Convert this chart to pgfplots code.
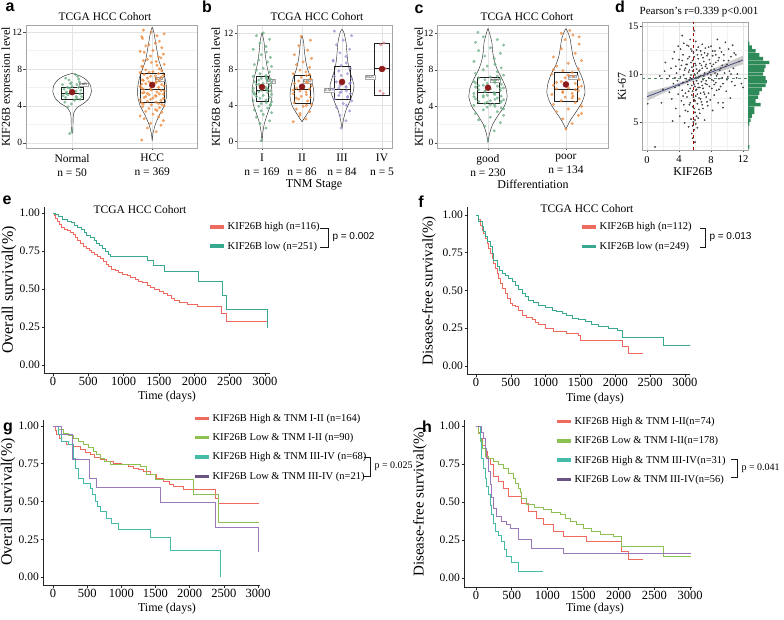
\documentclass[border=0pt]{standalone}
\usepackage{fontspec}
\setmainfont{Liberation Serif}
\newfontfamily\lsans{Liberation Sans}
\usepackage{pgfplots}
\pgfplotsset{compat=1.18}

\definecolor{kmred}{HTML}{EE6A5E}
\definecolor{kmteal}{HTML}{38A98F}
\definecolor{kmcyan}{HTML}{45BBA8}
\definecolor{kmgreen}{HTML}{8CC152}
\definecolor{kmpurple}{HTML}{9A78BA}
\definecolor{ptgreen}{HTML}{6DAF86}
\definecolor{ptorange}{HTML}{EC8A3E}
\definecolor{ptpurple}{HTML}{9C93D1}
\definecolor{ptpink}{HTML}{E07A86}
\definecolor{meanred}{HTML}{8E1B1B}
\definecolor{histgreen}{HTML}{2F8A5A}
\definecolor{fitblue}{HTML}{4A4E8C}

\pgfplotsset{
  vio/.style={scale only axis, anchor=south west,
    axis line style={draw=gray!70}, grid=both,
    major grid style={draw=gray!22, line width=0.4pt},
    minor grid style={draw=gray!10, line width=0.3pt},
    tick align=outside, major tick length=2.5pt, minor tick length=0pt,
    tick style={draw=gray!60!black, line width=0.4pt}, tick pos=left,
    ytick={0,4,8,12}, minor ytick={2,6,10},
    yticklabel style={font=\fontsize{9.5}{11}\selectfont, inner sep=1pt},
    xticklabel style={align=center, font=\fontsize{11.5}{14}\selectfont},
    /pgf/number format/assume math mode=true},
  km/.style={scale only axis, anchor=south west, axis lines=left,
    axis line style={-, draw=gray!30!black, line width=0.6pt},
    tick align=outside, major tick length=2.5pt,
    tick style={draw=gray!30!black, line width=0.6pt},
    xtick={0,500,...,3000}, ytick={0,0.25,0.5,0.75,1},
    xticklabel style={inner sep=1pt, font=\fontsize{12.5}{14}\selectfont, /pgf/number format/set thousands separator={}},
    yticklabel style={inner sep=1.5pt, font=\fontsize{11.5}{13}\selectfont, /pgf/number format/.cd, fixed, fixed zerofill, precision=2},
    /pgf/number format/assume math mode=true,
    legend cell align=left,
    legend style={draw=none, fill=none, inner sep=0pt, font=\fontsize{10.5}{12}\selectfont, row sep=6.5pt},
    legend image code/.code={\draw[line width=3.4pt,#1] (0pt,0pt) -- (14pt,0pt);}},
  violine/.style={draw=gray!35!black, line width=0.45pt, smooth, tension=0.35, mark=none, forget plot},
  boxl/.style={draw=gray!25!black, line width=0.5pt, mark=none, forget plot},
  jit/.style={only marks, mark=*, mark size=1.3pt, color=#1, mark options={draw=#1, fill=#1, opacity=0.7}, forget plot},
  meanpt/.style={only marks, mark=*, mark size=3pt, color=meanred, mark options={draw=meanred, fill=meanred}, forget plot},
  kmline/.style={const plot, line width=0.9pt, color=#1, mark=none, forget plot},
}
\tikzset{meanlab/.style={draw=gray!70, fill=white, line width=0.25pt, inner sep=0.7pt, font=\fontsize{3.5}{4}\selectfont},
  panel/.style={font=\lsans\bfseries\fontsize{16}{18}\selectfont, anchor=base}}

\begin{document}
\begin{tikzpicture}
\path[use as bounding box] (0pt,0pt) rectangle (784pt,619pt);

% ---------- a ----------
\begin{axis}[vio, at={(25.7pt,471pt)}, width=171.3pt, height=123pt,
  xmin=0.42, xmax=2.56, ymin=-0.57, ymax=12.76,
  xtick={1,2}, xticklabels={{Normal\\n = 50},{HCC\\n = 369}}]
\addplot[violine] coordinates {(1,1.0)(0.99,1.5)(0.988,2.5)(0.98,3.2)(0.94,3.8)(0.85,4.3)(0.79,4.8)(0.76,5.5)(0.77,6.2)(0.82,6.8)(0.89,7.2)(1,7.5)(1.11,7.2)(1.18,6.8)(1.23,6.2)(1.24,5.5)(1.21,4.8)(1.15,4.3)(1.06,3.8)(1.02,3.2)(1.012,2.5)(1.01,1.5)(1,1.0)};
\addplot[violine] coordinates {(2,0.2)(1.99,1)(1.96,2)(1.91,3)(1.85,4)(1.82,5)(1.82,6)(1.84,7)(1.88,8)(1.92,9)(1.94,10)(1.96,11)(1.98,12)(2,12.5)(2.02,12)(2.04,11)(2.06,10)(2.08,9)(2.12,8)(2.16,7)(2.18,6)(2.18,5)(2.15,4)(2.09,3)(2.04,2)(2.01,1)(2,0.2)};
\addplot[boxl] coordinates {(0.86,4.73)(1.14,4.73)(1.14,6.03)(0.86,6.03)(0.86,4.73)};
\addplot[boxl] coordinates {(0.86,5.4)(1.14,5.4)};
\addplot[boxl] coordinates {(1.85,4.44)(2.15,4.44)(2.15,7.55)(1.85,7.55)(1.85,4.44)};
\addplot[boxl] coordinates {(1.85,5.8)(2.15,5.8)};
\addplot[jit=ptgreen] coordinates {(0.95,5.2)(1.05,5.6)(0.92,4.9)(1.08,6.0)(0.98,6.4)(1.10,5.3)(0.90,5.8)(1.03,4.6)(0.96,6.8)(1.07,7.2)(0.93,5.5)(1.12,5.0)(1.00,6.1)(0.88,6.3)(1.06,4.8)(0.97,5.9)(1.09,6.6)(0.91,4.4)(1.02,5.4)(1.11,5.7)(0.94,6.0)(1.04,7.4)(0.99,4.2)(0.89,5.1)(1.08,6.9)(0.95,3.9)(1.01,5.6)(1.06,6.3)(0.92,7.0)(1.10,4.7)(0.97,1.0)(1.00,1.3)(0.93,5.3)(1.05,5.0)(0.99,6.5)};
\addplot[jit=ptorange] coordinates {(1.87,0.3)(2.05,1.2)(1.94,1.6)(2.11,1.9)(1.98,2.1)(2.14,2.4)(1.90,2.6)(2.08,2.8)(1.85,2.9)(2.01,3.1)(2.12,3.3)(1.92,3.4)(2.04,3.6)(1.96,3.7)(2.09,3.8)(1.88,3.9)(2.06,3.5)(2.15,4.0)(1.99,4.1)(1.89,4.2)(1.87,4.3)(2.05,4.4)(1.94,4.5)(2.11,4.6)(1.98,4.7)(2.14,4.8)(1.90,4.9)(2.08,4.25)(1.85,4.65)(2.01,4.85)(2.12,4.15)(1.92,5.0)(2.04,5.1)(1.96,5.2)(2.09,5.3)(1.88,5.4)(2.06,5.5)(2.15,5.6)(1.99,5.7)(1.89,5.8)(1.87,5.9)(2.05,5.05)(1.94,5.35)(2.11,5.65)(1.98,5.85)(2.14,5.25)(1.90,5.45)(2.08,6.0)(1.85,6.1)(2.01,6.2)(2.12,6.3)(1.92,6.4)(2.04,6.5)(1.96,6.6)(2.09,6.7)(1.88,6.8)(2.06,6.9)(2.15,6.15)(1.99,6.45)(1.89,6.75)(1.87,6.35)(2.05,6.55)(1.94,7.0)(2.11,7.1)(1.98,7.2)(2.14,7.3)(1.90,7.4)(2.08,7.5)(1.85,7.6)(2.01,7.7)(2.12,7.8)(1.92,7.9)(2.04,7.25)(1.96,7.65)(2.09,8.0)(1.88,8.2)(2.06,8.4)(2.15,8.5)(1.99,8.7)(1.89,8.9)(1.87,8.3)(2.05,8.8)(1.94,9.0)(2.11,9.2)(1.98,9.4)(2.14,9.6)(1.90,9.8)(2.08,9.3)(1.85,9.9)(2.01,10.0)(2.12,10.3)(1.92,10.5)(2.04,10.8)(1.96,10.6)(2.09,11.0)(1.88,11.3)(2.06,11.6)(2.15,11.8)(1.99,12.0)(1.89,12.2)(1.87,11.5)};
\addplot[meanpt] coordinates {(1,5.485)(2,6.262)};
\node[meanlab, anchor=west] at (axis cs:1.08,6.3) {5.485};
\node[meanlab, anchor=west] at (axis cs:2.03,6.9) {6.262};
\end{axis}

% ---------- b ----------
\begin{axis}[vio, at={(237pt,471pt)}, width=155pt, height=123pt,
  xmin=0.375, xmax=4.25, ymin=-0.70, ymax=12.88,
  xtick={1,2,3,4}, xticklabels={{I\\n = 169},{II\\n = 86},{III\\n = 84},{IV\\n = 5}}]
\addplot[violine] coordinates {(1,0)(0.98,1)(0.94,2)(0.87,3)(0.79,4)(0.75,5)(0.76,6)(0.8,7)(0.86,8)(0.9,9)(0.93,10)(0.95,11)(1,12)(1.05,11)(1.07,10)(1.1,9)(1.14,8)(1.2,7)(1.24,6)(1.25,5)(1.21,4)(1.13,3)(1.06,2)(1.02,1)(1,0)};
\addplot[violine] coordinates {(2,2.2)(1.88,3)(1.75,4)(1.7,5)(1.72,6)(1.78,7)(1.86,8)(1.91,9)(1.94,10)(1.96,11)(2,11.7)(2.04,11)(2.06,10)(2.09,9)(2.14,8)(2.22,7)(2.28,6)(2.3,5)(2.25,4)(2.12,3)(2,2.2)};
\addplot[violine] coordinates {(3,1.5)(2.96,2.5)(2.9,3.5)(2.8,4.5)(2.72,5.5)(2.7,6.2)(2.75,7)(2.82,8)(2.86,9)(2.88,10)(2.9,11)(2.95,12)(3,12.4)(3.05,12)(3.1,11)(3.12,10)(3.14,9)(3.18,8)(3.25,7)(3.3,6.2)(3.28,5.5)(3.2,4.5)(3.1,3.5)(3.04,2.5)(3,1.5)};
\addplot[boxl] coordinates {(0.85,4.42)(1.15,4.42)(1.15,7.18)(0.85,7.18)(0.85,4.42)};
\addplot[boxl] coordinates {(0.85,5.63)(1.15,5.63)};
\addplot[boxl] coordinates {(1.8,4.24)(2.2,4.24)(2.2,7.36)(1.8,7.36)(1.8,4.24)};
\addplot[boxl] coordinates {(1.8,5.78)(2.2,5.78)};
\addplot[boxl] coordinates {(2.8,4.68)(3.2,4.68)(3.2,8.28)(2.8,8.28)(2.8,4.68)};
\addplot[boxl] coordinates {(2.8,5.78)(3.2,5.78)};
\addplot[boxl] coordinates {(3.81,5.15)(4.19,5.15)(4.19,10.86)(3.81,10.86)(3.81,5.15)};
\addplot[boxl] coordinates {(3.81,8.1)(4.19,8.1)};
\addplot[jit=ptgreen] coordinates {(0.98,0.1)(1.10,1.5)(0.95,2.0)(1.19,2.3)(0.86,2.7)(1.03,3.0)(1.24,3.2)(0.81,3.5)(1.14,3.7)(0.92,3.9)(1.21,4.0)(0.98,4.2)(1.11,4.3)(0.78,4.5)(1.10,4.6)(0.95,4.8)(1.19,4.9)(0.86,5.0)(1.03,5.1)(1.24,5.2)(0.81,5.3)(1.14,5.4)(0.92,5.5)(1.21,5.6)(0.98,5.7)(1.11,5.8)(0.78,5.9)(1.10,6.0)(0.95,6.1)(1.19,6.2)(0.86,6.3)(1.03,6.4)(1.24,6.5)(0.81,6.6)(1.14,6.7)(0.92,6.8)(1.21,6.9)(0.98,7.0)(1.11,7.1)(0.78,7.2)(1.10,7.3)(0.95,7.5)(1.19,7.7)(0.86,7.9)(1.03,8.1)(1.24,8.3)(0.81,8.5)(1.14,8.8)(0.92,9.0)(1.21,9.3)(0.98,9.6)(1.11,9.9)(0.78,10.2)(1.10,10.5)(0.95,10.9)(1.19,11.3)(0.86,11.7)(1.03,12.0)(1.24,4.4)(0.81,5.25)(1.14,5.75)(0.92,6.35)(1.21,4.1)(0.98,3.4)(1.11,6.95)(0.78,5.55)};
\addplot[jit=ptorange] coordinates {(1.78,2.2)(2.10,2.5)(1.95,2.9)(2.19,3.3)(1.86,3.6)(2.03,3.9)(2.24,4.1)(1.81,4.3)(2.14,4.5)(1.92,4.7)(2.21,4.9)(1.98,5.0)(2.11,5.2)(1.78,5.3)(2.10,5.5)(1.95,5.6)(2.19,5.8)(1.86,5.9)(2.03,6.0)(2.24,6.2)(1.81,6.4)(2.14,6.5)(1.92,6.7)(2.21,6.9)(1.98,7.1)(2.11,7.3)(1.78,7.5)(2.10,7.7)(1.95,7.9)(2.19,8.2)(1.86,8.5)(2.03,8.8)(2.24,9.2)(1.81,9.6)(2.14,10.1)(1.92,10.6)(2.21,11.2)(1.98,11.6)(2.11,4.0)(1.78,5.7)(2.10,6.6)(1.95,3.1)(2.19,7.4)(1.86,4.8)};
\addplot[jit=ptpurple] coordinates {(2.98,1.5)(3.10,2.3)(2.95,2.9)(3.19,3.4)(2.86,3.8)(3.03,4.2)(3.24,4.5)(2.81,4.7)(3.14,4.9)(2.92,5.1)(3.21,5.3)(2.98,5.5)(3.11,5.6)(2.78,5.8)(3.10,6.0)(2.95,6.2)(3.19,6.4)(2.86,6.6)(3.03,6.8)(3.24,7.0)(2.81,7.2)(3.14,7.5)(2.92,7.8)(3.21,8.1)(2.98,8.4)(3.11,8.7)(2.78,9.0)(3.10,9.4)(2.95,9.8)(3.19,10.2)(2.86,10.7)(3.03,11.2)(3.24,11.7)(2.81,12.2)(3.14,5.0)(2.92,5.9)(3.21,6.5)(2.98,7.3)(3.11,4.0)(2.78,8.9)(3.10,6.1)(2.95,5.4)};
\addplot[jit=ptpink] coordinates {(4.05,10.9)(3.97,10.7)(4.08,8.1)(3.95,5.6)(4.03,5.3)};
\addplot[meanpt] coordinates {(1,6.033)(2,6.062)(3,6.587)(4,8.025)};
\node[meanlab, anchor=west] at (axis cs:1.1,6.7) {6.033};
\node[meanlab, anchor=west] at (axis cs:2.02,6.7) {6.062};
\node[meanlab, anchor=east] at (axis cs:2.8,5.7) {6.587};
\node[meanlab, anchor=east] at (axis cs:3.82,7.1) {8.025};
\end{axis}

% ---------- c ----------
\begin{axis}[vio, at={(437pt,471pt)}, width=171pt, height=123pt,
  xmin=0.346, xmax=2.54, ymin=-0.58, ymax=12.9,
  xtick={1,2}, xticklabels={{good\\n = 230},{poor\\n = 134}}]
\addplot[violine] coordinates {(1,0)(0.98,1)(0.94,2)(0.87,3)(0.79,4)(0.755,5)(0.77,6)(0.82,7)(0.88,8)(0.92,9)(0.94,10)(0.95,11)(0.98,12)(1,12.5)(1.02,12)(1.05,11)(1.06,10)(1.08,9)(1.12,8)(1.18,7)(1.23,6)(1.245,5)(1.21,4)(1.13,3)(1.06,2)(1.02,1)(1,0)};
\addplot[violine] coordinates {(2,1.5)(1.94,2.5)(1.86,3.5)(1.79,4.5)(1.755,5.5)(1.77,6.5)(1.81,7.5)(1.87,8.5)(1.91,9.5)(1.93,10.5)(1.95,11.5)(2,12.5)(2.05,11.5)(2.07,10.5)(2.09,9.5)(2.13,8.5)(2.19,7.5)(2.23,6.5)(2.245,5.5)(2.21,4.5)(2.14,3.5)(2.06,2.5)(2,1.5)};
\addplot[boxl] coordinates {(0.86,4.32)(1.14,4.32)(1.14,7.17)(0.86,7.17)(0.86,4.32)};
\addplot[boxl] coordinates {(0.86,5.55)(1.14,5.55)};
\addplot[boxl] coordinates {(1.85,4.5)(2.15,4.5)(2.15,7.68)(1.85,7.68)(1.85,4.5)};
\addplot[boxl] coordinates {(1.85,5.86)(2.15,5.86)};
\addplot[jit=ptgreen] coordinates {(1.00,0.2)(1.08,1.3)(0.96,1.8)(1.16,2.2)(0.88,2.5)(1.03,2.8)(1.20,3.0)(0.84,3.2)(1.12,3.4)(0.94,3.6)(1.17,3.8)(0.99,3.9)(1.09,4.0)(0.82,4.1)(1.08,4.2)(0.96,4.3)(1.16,4.4)(0.88,4.5)(1.03,4.6)(1.20,4.7)(0.84,4.8)(1.12,4.9)(0.94,5.0)(1.17,5.1)(0.99,5.2)(1.09,5.3)(0.82,5.4)(1.08,5.5)(0.96,5.6)(1.16,5.7)(0.88,5.8)(1.03,5.9)(1.20,6.0)(0.84,6.1)(1.12,6.2)(0.94,6.3)(1.17,6.4)(0.99,6.5)(1.09,6.6)(0.82,6.7)(1.08,6.8)(0.96,6.9)(1.16,7.0)(0.88,7.1)(1.03,7.2)(1.20,7.4)(0.84,7.6)(1.12,7.8)(0.94,8.0)(1.17,8.2)(0.99,8.4)(1.09,8.6)(0.82,8.9)(1.08,9.2)(0.96,9.5)(1.16,9.8)(0.88,10.1)(1.03,10.4)(1.20,10.7)(0.84,11.0)(1.12,11.3)(0.94,11.6)(0.87,12.1)(0.99,4.45)(1.09,4.75)(0.82,5.05)(1.08,5.35)(0.96,5.65)(1.16,5.95)(0.88,6.25)(1.03,4.15)(1.20,3.7)(0.84,6.55)(1.12,7.3)(0.94,5.15)(1.17,4.55)};
\addplot[jit=ptorange] coordinates {(2.00,1.5)(2.08,2.1)(1.96,2.6)(2.16,3.0)(1.88,3.4)(2.03,3.7)(2.20,4.0)(1.84,4.2)(2.12,4.4)(1.94,4.6)(2.17,4.8)(1.99,5.0)(2.09,5.1)(1.82,5.3)(2.08,5.4)(1.96,5.6)(2.16,5.7)(1.88,5.9)(2.03,6.0)(2.20,6.2)(1.84,6.3)(2.12,6.5)(1.94,6.7)(2.17,6.9)(1.99,7.1)(2.09,7.3)(1.82,7.5)(2.08,7.7)(1.96,7.9)(2.16,8.1)(1.88,8.4)(2.03,8.7)(2.20,9.0)(1.84,9.4)(2.12,9.8)(1.94,10.3)(2.17,10.8)(1.99,11.3)(2.09,11.8)(2.05,12.3)(2.08,4.9)(1.96,5.5)(2.16,6.1)(1.88,6.6)(2.03,7.4)(2.20,3.2)(1.84,8.0)(2.12,5.8)(1.94,12.0)(2.17,11.6)};
\addplot[meanpt] coordinates {(1,6.025)(2,6.384)};
\node[meanlab, anchor=west] at (axis cs:1.03,6.8) {6.025};
\node[meanlab, anchor=west] at (axis cs:2.03,7.2) {6.384};
\end{axis}

% ---------- d ----------
\begin{axis}[vio, at={(642pt,469pt)}, width=106pt, height=128pt,
  xmin=-0.625, xmax=12.625, ymin=2.08, ymax=15.42,
  xtick={0,4,8,12}, minor xtick={2,6,10}, ytick={5,10,15}, minor ytick={2.5,7.5,12.5},
  xticklabel style={font=\fontsize{10.5}{12}\selectfont}, yticklabel style={font=\fontsize{10}{12}\selectfont}]
\addplot[fill=gray!40, draw=none, forget plot] coordinates {(0,7.19)(3,8.38)(6,9.37)(9,10.22)(12,11.01)(12,11.91)(9,10.82)(6,9.73)(3,8.78)(0,8.09)} -- cycle;
\addplot[only marks, mark=*, mark size=0.65pt, color=black!75, mark options={draw=black!75, fill=black!75}, forget plot] coordinates {(0.1,6.9)(1.0,2.4)(1.6,9.8)(2.0,8.4)(2.3,11.2)(2.5,9.5)(2.8,8.1)(3.0,10.6)(3.1,7.4)(3.3,9.0)(3.4,12.3)(3.5,8.6)(3.6,6.4)(3.7,10.1)(3.8,9.3)(3.9,7.9)(4.0,11.5)(4.0,8.8)(4.1,5.6)(4.2,9.7)(4.3,10.9)(4.3,7.2)(4.4,8.3)(4.5,12.0)(4.5,9.1)(4.6,6.8)(4.7,10.4)(4.7,4.9)(4.8,8.0)(4.9,11.0)(4.9,9.5)(5.0,7.6)(5.0,13.0)(5.1,8.9)(5.1,6.1)(5.2,10.2)(5.2,4.5)(5.3,9.4)(5.3,11.8)(5.4,7.0)(5.4,8.5)(5.5,12.6)(5.5,5.3)(5.5,9.9)(5.6,7.8)(5.6,10.7)(5.6,3.8)(5.7,8.2)(5.7,11.4)(5.7,6.6)(5.8,9.2)(5.8,5.0)(5.8,12.2)(5.9,7.3)(5.9,10.0)(5.9,4.2)(6.0,8.7)(6.0,11.1)(6.0,6.0)(6.1,9.6)(6.1,13.4)(6.1,7.7)(6.2,5.6)(6.2,10.5)(6.2,8.4)(6.3,12.0)(6.3,6.9)(6.4,9.0)(6.4,11.6)(6.5,7.5)(6.5,10.3)(6.6,8.6)(6.6,5.9)(6.7,12.4)(6.7,9.8)(6.8,7.1)(6.8,10.9)(6.9,8.8)(6.9,13.1)(7.0,6.4)(7.0,9.4)(7.1,11.3)(7.1,8.1)(7.2,10.1)(7.2,5.2)(7.3,12.7)(7.3,9.0)(7.4,7.6)(7.4,11.0)(7.5,8.9)(7.5,10.6)(7.6,6.7)(7.6,12.1)(7.7,9.6)(7.7,8.0)(7.8,11.5)(7.8,10.2)(7.9,7.3)(8.0,9.9)(8.0,12.9)(8.1,8.5)(8.1,10.8)(8.2,6.2)(8.2,11.9)(8.3,9.3)(8.4,10.5)(8.4,7.8)(8.5,12.4)(8.6,9.1)(8.6,11.2)(8.7,8.3)(8.8,10.0)(8.8,13.6)(8.9,7.0)(9.0,11.7)(9.0,9.5)(9.1,10.4)(9.2,8.7)(9.3,12.3)(9.4,10.9)(9.5,9.0)(9.5,6.5)(9.6,11.4)(9.7,10.1)(9.8,13.3)(9.9,8.2)(10.0,11.0)(10.1,9.7)(10.2,12.6)(10.3,10.3)(10.4,7.5)(10.5,11.8)(10.6,9.2)(10.7,13.0)(10.8,10.6)(11.0,8.8)(11.1,12.0)(11.3,10.0)(11.5,11.3)(11.8,9.0)(12.0,8.6)(5.9,14.5)(6.0,2.9)(5.7,3.3)(4.4,14.0)(9.5,7.0)(3.2,5.1)
(4.6,9.9)(4.8,10.6)(5.0,9.2)(5.1,11.6)(5.2,8.2)(5.3,10.4)(5.4,9.6)(5.5,11.2)(5.6,8.8)(5.6,9.5)(5.7,10.3)(5.8,7.6)(5.8,10.8)(5.9,8.9)(5.9,11.8)(6.0,9.9)(6.0,7.2)(6.1,10.9)(6.1,8.3)(6.2,12.5)(6.2,9.3)(6.3,7.9)(6.3,10.1)(6.4,8.6)(6.4,12.8)(6.5,9.7)(6.5,6.3)(6.6,11.1)(6.6,10.4)(6.7,8.0)(6.7,7.4)(6.8,12.0)(6.8,9.2)(6.9,10.6)(6.9,6.8)(7.0,11.7)(7.0,8.5)(7.1,9.8)(7.2,12.2)(7.2,7.9)(7.3,10.8)(7.4,9.3)(7.5,11.9)(7.5,7.1)(7.6,10.0)(7.7,12.8)(7.8,8.7)(7.9,11.1)(8.0,10.4)(8.1,9.4)(8.2,12.4)(8.3,11.0)(8.4,8.9)(8.5,10.1)(8.6,12.0)(8.7,9.8)(8.9,11.4)(9.0,8.4)(9.1,12.7)(9.2,10.6)(9.4,9.6)(9.6,12.0)(9.8,10.8)(10.0,9.4)(10.2,11.4)(10.5,10.0)(10.9,12.2)(11.2,9.6)(4.2,12.6)(4.4,11.4)(4.5,7.7)(4.6,13.2)(4.8,6.2)(5.0,11.0)(5.2,12.9)(5.3,6.8)(5.4,13.6)(5.6,12.4)(5.7,4.6)(5.9,6.4)(6.0,5.2)(6.1,4.8)(6.3,4.4)(6.4,5.4)(3.6,10.8)(3.2,11.6)(2.8,9.8)(3.9,12.9)(3.5,9.6)(2.2,10.3)(1.8,7.0)(4.1,10.5)};
\addplot[fitblue, line width=0.8pt, mark=none, forget plot] coordinates {(0,7.64)(12,11.46)};
\addplot[red!60!black, dashed, line width=0.5pt, mark=none, forget plot] coordinates {(5.75,2.08)(5.75,15.42)};
\addplot[ptgreen!80!black, dashed, line width=0.5pt, mark=none, forget plot] coordinates {(-0.625,9.55)(12.625,9.55)};
\end{axis}
\begin{axis}[scale only axis, anchor=south west, at={(748pt,469pt)}, width=24pt, height=128pt,
  xmin=0, xmax=19, ymin=2.08, ymax=15.42, hide axis]
\addplot[xbar, bar width=0.36, fill=histgreen, draw=none] coordinates {(1,13.2)(3,12.8)(6,12.4)(9,12.0)(12,11.6)(17,11.2)(14,10.8)(13,10.4)(12,10.0)(14,9.6)(15,9.2)(14,8.8)(11,8.4)(9,8.0)(8,7.6)(6,7.2)(10,6.8)(5,6.4)(5,6.0)(3,5.6)(2,5.2)(1,4.8)(1,2.4)};
\end{axis}

% ---------- e ----------
\begin{axis}[km, at={(44pt,246pt)}, width=226pt, height=166pt,
  xmin=-127, xmax=3071, ymin=-0.053, ymax=1.04,
  legend style={at={(axis description cs:0.726,0.92)}, anchor=north west}]
\addplot[kmline=kmred] coordinates {(0,1.00)(20,0.985)(40,0.965)(60,0.945)(90,0.925)(120,0.905)(160,0.895)(200,0.885)(250,0.872)(290,0.858)(320,0.838)(350,0.818)(390,0.800)(430,0.782)(470,0.768)(510,0.755)(550,0.742)(590,0.728)(630,0.712)(670,0.698)(710,0.682)(750,0.664)(790,0.648)(830,0.632)(880,0.620)(930,0.608)(990,0.598)(1050,0.588)(1100,0.576)(1160,0.562)(1210,0.550)(1270,0.540)(1330,0.525)(1380,0.508)(1440,0.496)(1500,0.485)(1560,0.470)(1620,0.455)(1680,0.438)(1720,0.424)(1790,0.410)(1900,0.400)(2040,0.388)(2380,0.340)(2460,0.285)(3030,0.285)};
\addplot[kmline=kmteal] coordinates {(0,1.00)(40,0.99)(80,0.975)(140,0.96)(200,0.948)(260,0.935)(300,0.92)(340,0.905)(400,0.89)(440,0.87)(480,0.855)(530,0.84)(580,0.82)(620,0.80)(660,0.785)(700,0.765)(740,0.745)(780,0.725)(820,0.713)(1330,0.69)(1420,0.658)(1580,0.614)(2060,0.548)(2400,0.46)(2450,0.366)(3040,0.24)};
\addlegendimage{kmred}\addlegendentry{KIF26B high (n=116)}
\addlegendimage{kmteal}\addlegendentry{KIF26B low (n=251)}
\end{axis}

% ---------- f ----------
\begin{axis}[km, at={(467pt,245pt)}, width=223pt, height=167pt,
  xmin=-129, xmax=3072, ymin=-0.053, ymax=1.053,
  legend style={at={(axis description cs:0.507,0.92)}, anchor=north west}]
\addplot[kmline=kmred] coordinates {(0,1.0)(30,0.97)(62,0.934)(86,0.90)(110,0.879)(134,0.845)(158,0.812)(182,0.78)(206,0.746)(230,0.712)(254,0.68)(278,0.646)(301,0.614)(325,0.58)(349,0.547)(385,0.515)(421,0.481)(457,0.448)(493,0.415)(529,0.404)(565,0.393)(610,0.37)(660,0.338)(730,0.322)(804,0.305)(850,0.29)(900,0.272)(1000,0.25)(1115,0.227)(1300,0.215)(1474,0.205)(1498,0.172)(2096,0.128)(2191,0.084)(2400,0.084)};
\addplot[kmline=kmteal] coordinates {(0,1.0)(40,0.96)(86,0.923)(110,0.89)(134,0.856)(170,0.823)(206,0.79)(230,0.745)(254,0.702)(301,0.658)(337,0.636)(373,0.614)(420,0.597)(469,0.58)(517,0.558)(565,0.536)(610,0.508)(660,0.481)(710,0.46)(756,0.437)(830,0.42)(900,0.404)(1000,0.388)(1091,0.371)(1160,0.36)(1235,0.349)(1300,0.333)(1378,0.316)(1470,0.305)(1569,0.294)(1660,0.278)(1761,0.26)(1900,0.25)(2024,0.238)(2096,0.19)(2694,0.139)(3080,0.139)};
\addlegendimage{kmred}\addlegendentry{KIF26B high (n=112)}
\addlegendimage{kmteal}\addlegendentry{KIF26B low (n=249)}
\end{axis}

% ---------- g ----------
\begin{axis}[km, at={(43pt,34pt)}, width=217pt, height=165pt,
  xmin=-146, xmax=3029, ymin=-0.053, ymax=1.04,
  legend style={at={(axis description cs:0.691,1.05)}, anchor=north west}]
\addplot[kmline=kmred] coordinates {(0,1)(30,0.97)(54,0.943)(90,0.92)(127,0.898)(200,0.88)(298,0.865)(395,0.843)(470,0.825)(541,0.81)(610,0.795)(688,0.777)(780,0.765)(883,0.755)(1000,0.745)(1100,0.735)(1176,0.722)(1250,0.71)(1322,0.70)(1420,0.68)(1520,0.655)(1615,0.634)(1700,0.615)(1761,0.60)(1907,0.578)(2371,0.523)(2420,0.49)(3010,0.49)};
\addplot[kmline=kmgreen] coordinates {(0,1)(78,0.976)(151,0.954)(220,0.94)(298,0.92)(370,0.9)(444,0.876)(520,0.855)(590,0.832)(640,0.81)(688,0.788)(760,0.766)(834,0.744)(1273,0.733)(1371,0.678)(1493,0.645)(2054,0.545)(2420,0.364)(3010,0.364)};
\addplot[kmline=kmcyan] coordinates {(0,1)(78,0.943)(127,0.898)(224,0.876)(298,0.788)(322,0.722)(371,0.656)(444,0.623)(541,0.589)(580,0.545)(615,0.501)(650,0.468)(688,0.435)(785,0.39)(859,0.358)(956,0.313)(1419,0.265)(1712,0.174)(2444,0)};
\addplot[kmline=kmpurple] coordinates {(0,1)(130,0.943)(290,0.777)(530,0.656)(630,0.596)(1566,0.497)(2371,0.331)(3005,0.166)};
\addlegendimage{kmred}\addlegendentry{KIF26B High \& TNM I-II (n=164)}
\addlegendimage{kmgreen}\addlegendentry{KIF26B Low \& TNM I-II (n=90)}
\addlegendimage{kmcyan}\addlegendentry{KIF26B High \& TNM III-IV (n=68)}
\addlegendimage{kmpurple!70!black}\addlegendentry{KIF26B Low \& TNM III-IV (n=21)}
\end{axis}

% ---------- h ----------
\begin{axis}[km, at={(464pt,32pt)}, width=228pt, height=167pt,
  xmin=-168, xmax=3028, ymin=-0.059, ymax=1.04,
  legend style={at={(axis description cs:0.399,1.03)}, anchor=north west}]
\addplot[kmline=kmred] coordinates {(0,1.0)(30,0.96)(56,0.92)(90,0.87)(126,0.83)(160,0.79)(196,0.746)(243,0.67)(313,0.636)(383,0.592)(453,0.537)(640,0.493)(734,0.439)(850,0.395)(944,0.351)(1084,0.307)(1224,0.274)(1551,0.241)(2042,0.175)(2136,0.12)(2346,0.12)};
\addplot[kmline=kmgreen] coordinates {(0,1.0)(30,0.95)(56,0.90)(90,0.85)(126,0.80)(180,0.785)(243,0.767)(310,0.745)(383,0.724)(450,0.69)(523,0.658)(560,0.625)(593,0.592)(620,0.56)(640,0.526)(710,0.482)(820,0.465)(944,0.45)(1060,0.433)(1178,0.417)(1250,0.395)(1318,0.373)(1410,0.35)(1505,0.329)(1620,0.307)(1738,0.285)(1925,0.274)(2042,0.208)(2626,0.143)(3020,0.143)};
\addplot[kmline=kmcyan] coordinates {(0,1.0)(56,0.92)(79,0.79)(105,0.72)(126,0.658)(150,0.60)(173,0.548)(196,0.48)(220,0.417)(243,0.36)(266,0.307)(320,0.28)(360,0.241)(400,0.19)(430,0.143)(500,0.1)(593,0.044)(944,0.044)};
\addplot[kmline=kmpurple] coordinates {(0,1.0)(70,0.96)(103,0.92)(126,0.85)(150,0.79)(173,0.70)(196,0.614)(220,0.53)(243,0.46)(290,0.406)(360,0.373)(420,0.35)(477,0.329)(593,0.252)(780,0.197)(1224,0.164)(3020,0.164)};
\addlegendimage{kmred}\addlegendentry{KIF26B High \& TNM I-II(n=74)}
\addlegendimage{kmgreen}\addlegendentry{KIF26B Low \& TNM I-II(n=178)}
\addlegendimage{kmcyan}\addlegendentry{KIF26B High \& TNM III-IV(n=31)}
\addlegendimage{kmpurple!70!black}\addlegendentry{KIF26B Low \& TNM III-IV(n=56)}
\end{axis}

% ---------- texts ----------
\node[panel] at (10pt,607pt) {a};
\node[panel] at (207pt,606pt) {b};
\node[panel] at (419pt,605pt) {c};
\node[panel] at (620pt,606pt) {d};
\node[panel] at (7pt,414pt) {e};
\node[panel] at (421pt,411pt) {f};
\node[panel] at (8pt,188pt) {g};
\node[panel] at (427pt,187pt) {h};

\begin{scope}[every node/.style={font=\fontsize{11.5}{13}\selectfont}]
\node at (105pt,602pt) {TCGA HCC Cohort};
\node at (317pt,602pt) {TCGA HCC Cohort};
\node at (527pt,602pt) {TCGA HCC Cohort};
\node at (140pt,409pt) {TCGA HCC Cohort};
\node at (587pt,410pt) {TCGA HCC Cohort};
\end{scope}
\node[font=\fontsize{11}{12}\selectfont] at (699pt,607pt) {Pearson’s r=0.339 p<0.001};

\begin{scope}[every node/.style={rotate=90, font=\fontsize{12}{13}\selectfont}]
\node at (7pt,532pt) {KIF26B expression level};
\node at (217pt,532pt) {KIF26B expression level};
\node at (420pt,532pt) {KIF26B expression level};
\end{scope}
\node[rotate=90, font=\fontsize{12}{13}\selectfont] at (622pt,532pt) {Ki-67};
\node[font=\fontsize{12}{13}\selectfont] at (693pt,447pt) {KIF26B};
\node[font=\fontsize{12}{13}\selectfont] at (314pt,434pt) {TNM Stage};
\node[font=\fontsize{12}{13}\selectfont] at (533pt,435pt) {Differentiation};

\node[rotate=90, font=\fontsize{16}{18}\selectfont] at (9pt,329pt) {Overall survival(\%)};
\node[rotate=90, font=\fontsize{15}{17}\selectfont] at (429pt,328pt) {Disease-free survival(\%)};
\node[rotate=90, font=\fontsize{16}{18}\selectfont] at (8pt,117pt) {Overall survival(\%)};
\node[rotate=90, font=\fontsize{15}{17}\selectfont] at (420pt,117pt) {Disease-free survival(\%)};

\begin{scope}[every node/.style={font=\fontsize{12}{13}\selectfont}]
\node at (167pt,222pt) {Time (days)};
\node at (595pt,220pt) {Time (days)};
\node at (167pt,10pt) {Time (days)};
\node at (595pt,10pt) {Time (days)};
\end{scope}

\draw[gray!20!black, line width=0.5pt] (320pt,391pt) -- (328pt,391pt) -- (328pt,372pt) -- (320pt,372pt);
\node[anchor=west, font=\lsans\fontsize{10}{12}\selectfont] at (329pt,382pt) {p = 0.002};
\draw[gray!20!black, line width=0.5pt] (700pt,391pt) -- (705pt,391pt) -- (705pt,372pt) -- (700pt,372pt);
\node[anchor=west, font=\lsans\fontsize{10}{12}\selectfont] at (706pt,382pt) {p = 0.013};
\draw[gray!20!black, line width=0.5pt] (364pt,162pt) -- (370pt,162pt) -- (370pt,143pt) -- (364pt,143pt);
\node[anchor=west, font=\fontsize{10}{12}\selectfont] at (371pt,153pt) {p = 0.025};
\draw[gray!20!black, line width=0.5pt] (731pt,160pt) -- (737pt,160pt) -- (737pt,142pt) -- (731pt,142pt);
\node[anchor=west, font=\fontsize{10}{12}\selectfont] at (738pt,151pt) {p = 0.041};
\end{tikzpicture}
\end{document}
